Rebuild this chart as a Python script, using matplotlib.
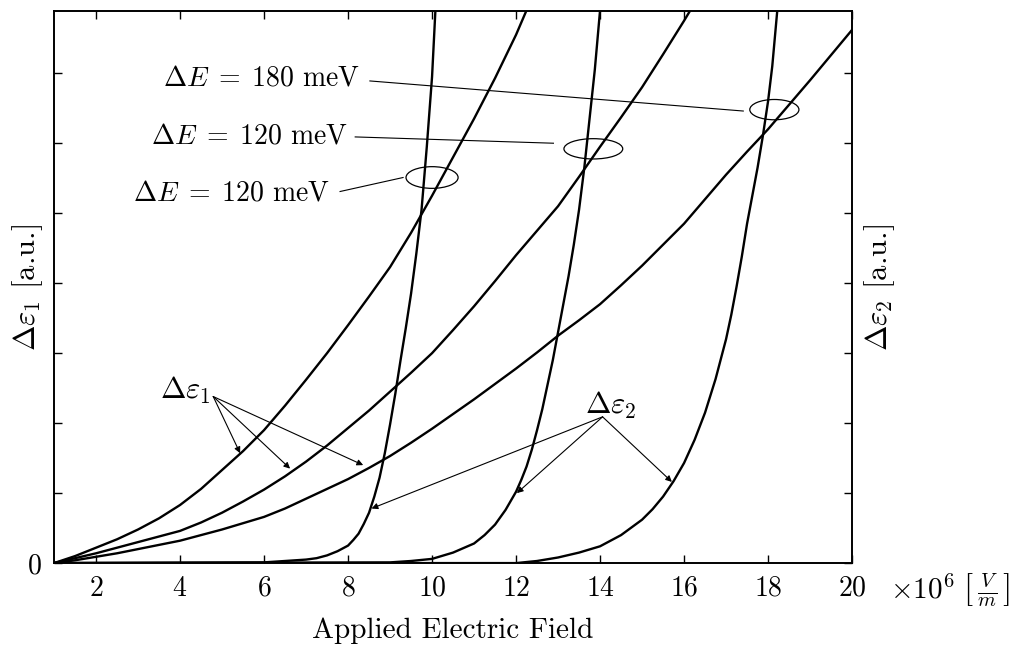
import matplotlib
matplotlib.use("Agg")
import matplotlib.pyplot as plt
from matplotlib.patches import Ellipse

plt.rcParams['font.family'] = 'serif'
plt.rcParams['font.serif'] = ['cmr10']
plt.rcParams['mathtext.fontset'] = 'cm'
plt.rcParams['axes.unicode_minus'] = False
plt.rcParams['axes.formatter.use_mathtext'] = True

# field in 10^6 V/m, responses in arbitrary units
field_a = [1, 1.5, 2, 2.5, 3, 3.5, 4, 4.5, 5, 5.5, 6, 6.5, 7, 7.5, 8, 8.5, 9, 9.5, 10,
           10.5, 11, 11.5, 12, 12.25]
eps1_a = [0.0, 0.10, 0.22, 0.34, 0.48, 0.64, 0.83, 1.06, 1.33, 1.60, 1.90, 2.25, 2.62,
          3.00, 3.40, 3.81, 4.23, 4.72, 5.25, 5.80, 6.35, 6.93, 7.55, 7.9]

field_b = [1, 1.5, 2, 2.5, 3, 3.5, 4, 4.5, 5, 5.5, 6, 6.5, 7, 7.5, 8, 8.5, 9, 9.5, 10,
           10.5, 11, 11.5, 12, 12.5, 13, 13.5, 14, 14.5, 15, 15.5, 16, 16.15]
eps1_b = [0.0, 0.07, 0.14, 0.22, 0.30, 0.38, 0.46, 0.58, 0.72, 0.88, 1.05, 1.24, 1.45,
          1.68, 1.93, 2.18, 2.45, 2.72, 3.00, 3.33, 3.67, 4.03, 4.40, 4.75, 5.10, 5.52,
          5.95, 6.37, 6.80, 7.27, 7.75, 7.9]

field_c = [1, 1.5, 2, 2.5, 3, 3.5, 4, 4.5, 5, 5.5, 6, 6.5, 7, 7.5, 8, 8.5, 9, 9.5, 10,
           10.5, 11, 11.5, 12, 12.5, 13, 13.5, 14, 14.5, 15, 15.5, 16, 16.5, 17, 17.5,
           18, 18.5, 19, 19.5, 20]
eps1_c = [0.0, 0.04, 0.09, 0.14, 0.20, 0.26, 0.32, 0.40, 0.48, 0.57, 0.66, 0.78, 0.92,
          1.06, 1.20, 1.36, 1.53, 1.72, 1.92, 2.13, 2.34, 2.56, 2.78, 3.01, 3.25, 3.47,
          3.70, 3.97, 4.25, 4.55, 4.85, 5.20, 5.55, 5.88, 6.20, 6.55, 6.90, 7.26, 7.62]

field_d1 = [1, 6, 6.5, 7, 7.25, 7.5, 7.75, 8, 8.125, 8.25, 8.375, 8.5, 8.625, 8.75,
            8.875, 9, 9.125, 9.25, 9.375, 9.5, 9.625, 9.75, 9.875, 10, 10.08]
eps2_d1 = [0.0, 0.01, 0.03, 0.05, 0.07, 0.11, 0.17, 0.25, 0.33, 0.42, 0.56, 0.72, 0.95,
           1.22, 1.57, 1.98, 2.42, 2.90, 3.36, 3.85, 4.42, 5.05, 5.95, 6.95, 7.9]

field_d2 = [1, 9, 9.5, 10, 10.5, 11, 11.25, 11.5, 11.75, 12, 12.125, 12.25, 12.375, 12.5,
            12.625, 12.75, 12.875, 13, 13.125, 13.25, 13.375, 13.5, 13.625, 13.75,
            13.875, 14.0]
eps2_d2 = [0.0, 0.01, 0.03, 0.06, 0.15, 0.28, 0.40, 0.55, 0.76, 1.02, 1.19, 1.38, 1.62,
           1.90, 2.20, 2.55, 2.90, 3.30, 3.70, 4.10, 4.55, 5.05, 5.65, 6.35, 7.05, 7.9]

field_d3 = [1, 12, 12.5, 13, 13.5, 14, 14.5, 15, 15.25, 15.5, 15.75, 16, 16.25, 16.5,
            16.75, 17, 17.125, 17.25, 17.375, 17.5, 17.625, 17.75, 17.875, 18.0, 18.1,
            18.22]
eps2_d3 = [0.0, 0.0, 0.03, 0.08, 0.15, 0.24, 0.40, 0.62, 0.77, 0.95, 1.17, 1.43, 1.76,
           2.15, 2.63, 3.20, 3.55, 3.95, 4.38, 4.85, 5.25, 5.65, 6.10, 6.60, 7.10, 7.9]

x_ticks = [2, 4, 6, 8, 10, 12, 14, 16, 18, 20]
y_ticks = [0, 1, 2, 3, 4, 5, 6, 7]
y_tick_labels = ['0', '', '', '', '', '', '', '']

# crossing points marked with ellipses: centre x, centre y, width, height
cross_x = [10.0, 13.84, 18.15]
cross_y = [5.51, 5.92, 6.48]
cross_w = [1.24, 1.40, 1.17]
cross_h = [0.31, 0.29, 0.29]

fig = plt.figure(figsize=(10.14, 6.45), dpi=100)
ax = fig.add_axes([0.0533, 0.127, 0.787, 0.856])

for fx, fy in [(field_a, eps1_a), (field_b, eps1_b), (field_c, eps1_c),
               (field_d1, eps2_d1), (field_d2, eps2_d2), (field_d3, eps2_d3)]:
    ax.plot(fx, fy, color='black', lw=1.7)

for cx, cy, w, h in zip(cross_x, cross_y, cross_w, cross_h):
    ax.add_patch(Ellipse((cx, cy), w, h, fill=False, ec='black', lw=0.9))

ax.set_xlim(1, 20)
ax.set_ylim(0, 7.89)
ax.set_xticks(x_ticks)
ax.set_yticks(y_ticks)
ax.set_yticklabels(y_tick_labels)
ax.tick_params(direction='in', length=6, width=1, labelsize=20,
               top=True, right=True, pad=9)
for sp in ax.spines.values():
    sp.set_linewidth(1.4)

ax.set_xlabel('Applied Electric Field', fontsize=21, labelpad=11)
ax.text(1.047, -0.048, r'$\times 10^6\ \left[\,\frac{V}{m}\,\right]$', transform=ax.transAxes,
        fontsize=21, ha='left', va='center')
ax.text(-0.033, 0.5, r'$\Delta\varepsilon_1$ [a.u.]', transform=ax.transAxes,
        rotation=90, fontsize=22, ha='center', va='center')
ax.text(1.035, 0.5, r'$\Delta\varepsilon_2$ [a.u.]', transform=ax.transAxes,
        rotation=90, fontsize=22, ha='center', va='center')

# level-splitting labels with leader lines to the crossings
thin = dict(color='black', lw=0.8)
ax.text(8.29, 6.93, r'$\Delta E\;=\;180$ meV', fontsize=20, ha='right', va='center')
ax.plot([8.52, 17.41], [6.89, 6.46], **thin)
ax.text(8.0, 6.10, r'$\Delta E\;=\;120$ meV', fontsize=20, ha='right', va='center')
ax.plot([8.17, 12.89], [6.09, 6.00], **thin)
ax.text(7.57, 5.29, r'$\Delta E\;=\;120$ meV', fontsize=20, ha='right', va='center')
ax.plot([7.81, 9.31], [5.31, 5.51], **thin)

arrow = dict(arrowstyle='-|>', color='black', lw=0.8, mutation_scale=9,
             shrinkA=0, shrinkB=0)
ax.text(3.52, 2.47, r'$\Delta\varepsilon_1$', fontsize=22, ha='left', va='center')
for tx, ty in [(5.43, 1.57), (6.62, 1.35), (8.36, 1.40)]:
    ax.annotate('', xy=(tx, ty), xytext=(4.79, 2.38), arrowprops=arrow)
ax.text(13.64, 2.26, r'$\Delta\varepsilon_2$', fontsize=22, ha='left', va='center')
for tx, ty in [(8.56, 0.78), (12.02, 1.00), (15.71, 1.16)]:
    ax.annotate('', xy=(tx, ty), xytext=(14.06, 2.09), arrowprops=arrow)

fig.savefig('out.png', dpi=100)
